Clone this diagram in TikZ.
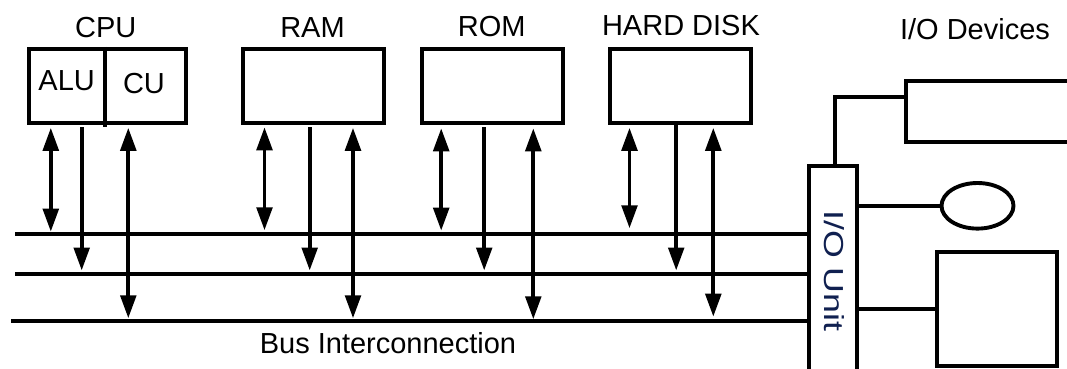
\documentclass[tikz,border=0pt]{standalone}
\usepackage{fontspec}
\setmainfont{Liberation Sans}
\usetikzlibrary{arrows.meta,calc,shapes.geometric}
\definecolor{unitink}{RGB}{16,32,80}
\tikzset{
  lw/.style={line width=3.9pt},
  unitbox/.style={lw, draw, rectangle, inner sep=0pt},
  txt/.style={font=\fontsize{29}{32}\selectfont, inner sep=0pt, anchor=base},
  bus/.style={lw},
  conn/.style={lw, line join=miter},
  bidir/.style={lw, {Triangle[length=23pt,width=15.5pt]}-{Triangle[length=23pt,width=15.5pt]}},
  oneway/.style={lw, -{Triangle[length=23pt,width=15.5pt]}},
}
\begin{document}
\begin{tikzpicture}[x=1pt,y=-1pt]
\useasboundingbox (0,0) rectangle (1067,369);
\clip (0,0) rectangle (1067,369);

% functional units
\node[unitbox, minimum width=157.3pt, minimum height=74pt] (cpu) at (107.3,85.8) {};
\node[unitbox, minimum width=140.7pt, minimum height=74pt] (ram) at (313.7,85.8) {};
\node[unitbox, minimum width=141pt, minimum height=74pt] (rom) at (492.5,85.8) {};
\node[unitbox, minimum width=141pt, minimum height=74pt] (hdd) at (680.8,85.8) {};
\draw[lw] (cpu.north -| 105.3,0) -- ($(cpu.south -| 105.3,0)+(0,2)$);

\node[txt] (cpulbl) at (105.8,37.3) {CPU};
\node[txt] (ramlbl) at (312.5,37.3) {RAM};
\node[txt] (romlbl) at (491.7,36.7) {ROM};
\node[txt] (hddlbl) at (681,35.5) {HARD DISK};
\node[txt] (alu) at (66.7,90.7) {ALU};
\node[txt] (cu) at (144,93.3) {CU};

% I/O unit and devices
\node[unitbox, minimum width=48.6pt, minimum height=209pt] (iou) at (833,270.8) {};
\node[rotate=-90, inner sep=0pt, text=unitink, font=\fontsize{27.5}{30}\selectfont] (ioulbl) at (834.5,270.8) {\scalebox{1.3}[1]{I/O Unit}};
\node[txt] (devlbl) at (975,40) {I/O Devices};
\node[unitbox, minimum width=184pt, minimum height=61pt] (dev1) at (998,111.5) {};
\node[unitbox, ellipse, minimum width=72pt, minimum height=45.6pt] (dev2) at (977.5,205.8) {};
\node[unitbox, minimum width=119.7pt, minimum height=114pt] (dev3) at (996.9,309) {};

\draw[conn] (iou.north -| 835,0) |- (dev1.west |- 0,97.3);
\draw[conn] (iou.east |- dev2.west) -- (dev2.west);
\draw[conn] (iou.east |- dev3.west) -- (dev3.west);

% bus lines
\coordinate (b1) at (15,234.3);
\coordinate (b2) at (15,274);
\coordinate (b3) at (11,321);
\draw[bus] (b1) -- (b1 -| iou.west);
\draw[bus] (b2) -- (b2 -| iou.west);
\draw[bus] (b3) -- (b3 -| iou.west);
\node[txt] (buslbl) at (388,353.3) {Bus Interconnection};

% CPU links
\draw[bidir] ($(cpu.south -| 50.8,0)+(0,3)$) -- ($(b1 -| 50.8,0)+(0,-2.6)$);
\draw[oneway] ($(cpu.south -| 81.7,0)+(0,2.5)$) -- ($(b2 -| 81.7,0)+(0,-3.5)$);
\draw[bidir] ($(cpu.south -| 128.3,0)+(0,3)$) -- ($(b3 -| 128.3,0)+(0,-2.7)$);
% RAM links
\draw[bidir] ($(ram.south -| 264.5,0)+(0,2.5)$) -- ($(b1 -| 264.5,0)+(0,-4)$);
\draw[oneway] ($(ram.south -| 309.7,0)+(0,2.5)$) -- ($(b2 -| 309.7,0)+(0,-3.5)$);
\draw[bidir] ($(ram.south -| 353,0)+(0,3)$) -- ($(b3 -| 353,0)+(0,-2.7)$);
% ROM links
\draw[bidir] ($(rom.south -| 441.2,0)+(0,3.5)$) -- ($(b1 -| 441.2,0)+(0,-3.6)$);
\draw[oneway] ($(rom.south -| 484.2,0)+(0,2.5)$) -- ($(b2 -| 484.2,0)+(0,-3.5)$);
\draw[bidir] ($(rom.south -| 533.3,0)+(0,3.5)$) -- ($(b3 -| 533.3,0)+(0,-1.7)$);
% hard disk links
\draw[bidir] ($(hdd.south -| 629.5,0)+(0,3)$) -- ($(b1 -| 629.5,0)+(0,-6)$);
\draw[oneway] (hdd.south -| 676.2,0) -- ($(b2 -| 676.2,0)+(0,-3.5)$);
\draw[bidir] ($(hdd.south -| 713.3,0)+(0,3)$) -- ($(b3 -| 713.3,0)+(0,-4.3)$);
\end{tikzpicture}
\end{document}
